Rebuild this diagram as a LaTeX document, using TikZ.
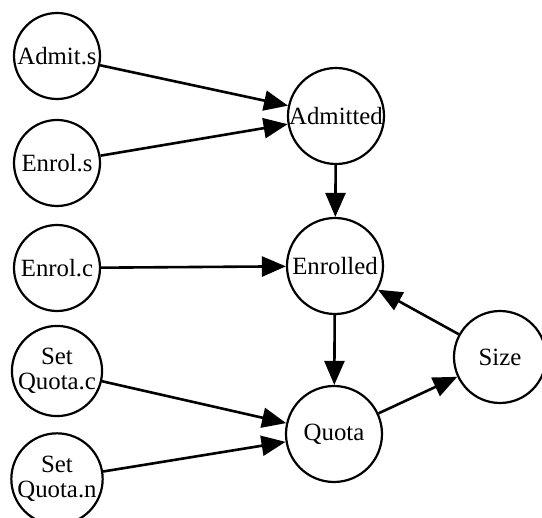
\documentclass[tikz,border=0pt]{standalone}
\usepackage{fontspec}
\setmainfont{Liberation Serif}
\usetikzlibrary{arrows.meta}

\begin{document}
\begin{tikzpicture}[x=0.5pt,y=-0.5pt,
  var/.style={draw,circle,line width=1.1pt,inner sep=0pt,minimum size=43pt,align=center,font=\fontsize{12.4}{12.6}\selectfont},
  big/.style={var,minimum size=48pt},
  arr/.style={line width=1.3pt,-{Triangle[length=12pt,width=10pt]}}]
\useasboundingbox (0,0) rectangle (542,518);
% inputs on the left
\node[var] (admits) at (57,56) {Admit.s};
\node[var] (enrols) at (57,163) {Enrol.s};
\node[var] (enrolc) at (57,268) {Enrol.c};
\node[var] (setquotac) at (57,371) {Set\\Quota.c};
\node[var] (setquotan) at (57,479) {Set\\Quota.n};
% states
\node[big] (admitted) at (336,116) {Admitted};
\node[big] (enrolled) at (335,266) {Enrolled};
\node[big] (quota) at (334,434) {Quota};
\node[var,minimum size=46pt] (size) at (500,357) {Size};
% flows
\draw[arr] (admits) -- (admitted);
\draw[arr] (enrols) -- (admitted);
\draw[arr] (admitted) -- (enrolled);
\draw[arr] (enrolc) -- (enrolled);
\draw[arr] (enrolled) -- (quota);
\draw[arr] (setquotac) -- (quota);
\draw[arr] (setquotan) -- (quota);
\draw[arr] (quota) -- (size);
\draw[arr] (size) -- (enrolled);
\end{tikzpicture}
\end{document}
